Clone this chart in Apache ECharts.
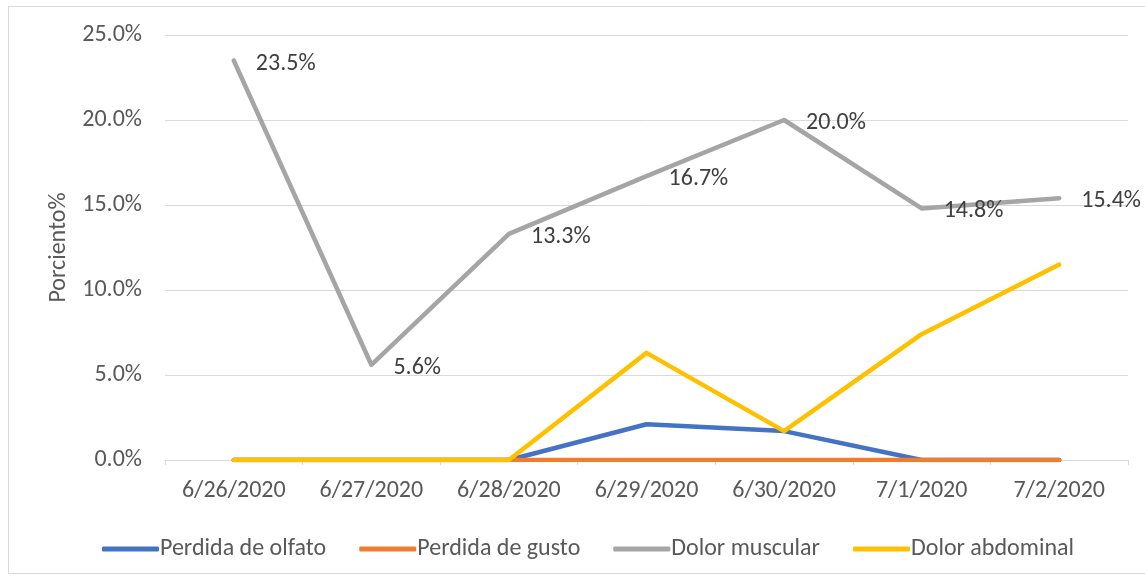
<!DOCTYPE html>
<html>
<head>
<meta charset="utf-8">
<style>
  html, body { margin: 0; padding: 0; background: #fff; }
  #wrap { position: relative; width: 1145px; height: 577px; overflow: hidden; }
  #frame { position: absolute; left: 8px; top: 6px; width: 1150px; height: 568px; border: 1px solid #d9d9d9; box-sizing: border-box; }
  #chart { position: absolute; left: 0; top: 0; width: 1145px; height: 577px; }
</style>
<script src="https://cdn.jsdelivr.net/npm/echarts@6/dist/echarts.min.js"></script>
</head>
<body>
<div id="wrap">
  <div id="frame"></div>
  <div id="chart"></div>
</div>
<script>
  // fechas
  const categories = ['6/26/2020', '6/27/2020', '6/28/2020', '6/29/2020', '6/30/2020', '7/1/2020', '7/2/2020']
  // valores en %
  const olfato = [0, 0, 0, 2.1, 1.7, 0, 0]
  const gusto = [0, 0, 0, 0, 0, 0, 0]
  const muscular = [23.5, 5.6, 13.3, 16.7, 20.0, 14.8, 15.4]
  const abdominal = [0, 0, 0, 6.3, 1.7, 7.4, 11.5]
  const seriesNames = ['Perdida de olfato', 'Perdida de gusto', 'Dolor muscular', 'Dolor abdominal']
  const colors = ['#4472C4', '#ED7D31', '#A5A5A5', '#FFC000']

  const font = 'Calibri, Carlito, "Liberation Sans", Arial, sans-serif'
  const fs = 24
  const myChart = echarts.init(document.getElementById('chart'))

  function lineSerie(name, data, color, withLabel) {
    return {
      name: name,
      type: 'line',
      data: data,
      showSymbol: withLabel,
      symbol: 'circle',
      symbolSize: 0.1,
      lineStyle: { width: 4.5, color: color, cap: 'round', join: 'round' },
      itemStyle: { color: color },
      label: {
        show: withLabel,
        position: 'right',
        distance: 22,
        offset: [0, 3],
        color: '#404040',
        fontSize: fs,
        fontFamily: font,
        formatter: p => p.value.toFixed(1) + '%'
      },
      emphasis: { disabled: true }
    }
  }

  const option = {
    animation: false,
    color: colors,
    legend: {
      left: 97,
      top: 532,
      itemWidth: 57,
      itemHeight: 5,
      itemGap: 33,
      icon: 'roundRect',
      textStyle: { color: '#595959', fontSize: fs, fontFamily: font, padding: [0, 0, 0, -4] },
      data: seriesNames
    },
    grid: { left: 165, right: 17, top: 35, bottom: 117 },
    xAxis: {
      type: 'category',
      data: categories,
      boundaryGap: true,
      axisLine: { lineStyle: { color: '#d9d9d9', width: 1 } },
      axisTick: { show: true, length: 5, lineStyle: { color: '#d9d9d9' } },
      axisLabel: { color: '#595959', fontSize: fs, fontFamily: font, margin: 19 }
    },
    yAxis: {
      type: 'value',
      min: 0,
      max: 25,
      interval: 5,
      name: 'Porciento%',
      nameLocation: 'middle',
      nameGap: 92,
      nameTextStyle: { color: '#595959', fontSize: fs, fontFamily: font },
      axisLine: { show: false },
      axisTick: { show: false },
      axisLabel: { color: '#595959', fontSize: fs, fontFamily: font, margin: 23, formatter: v => v.toFixed(1) + '%' },
      splitLine: { lineStyle: { color: '#d9d9d9', width: 1 } }
    },
    series: [
      lineSerie(seriesNames[0], olfato, colors[0], false),
      lineSerie(seriesNames[1], gusto, colors[1], false),
      lineSerie(seriesNames[2], muscular, colors[2], true),
      lineSerie(seriesNames[3], abdominal, colors[3], false)
    ]
  }
  myChart.setOption(option)
</script>
</body>
</html>
